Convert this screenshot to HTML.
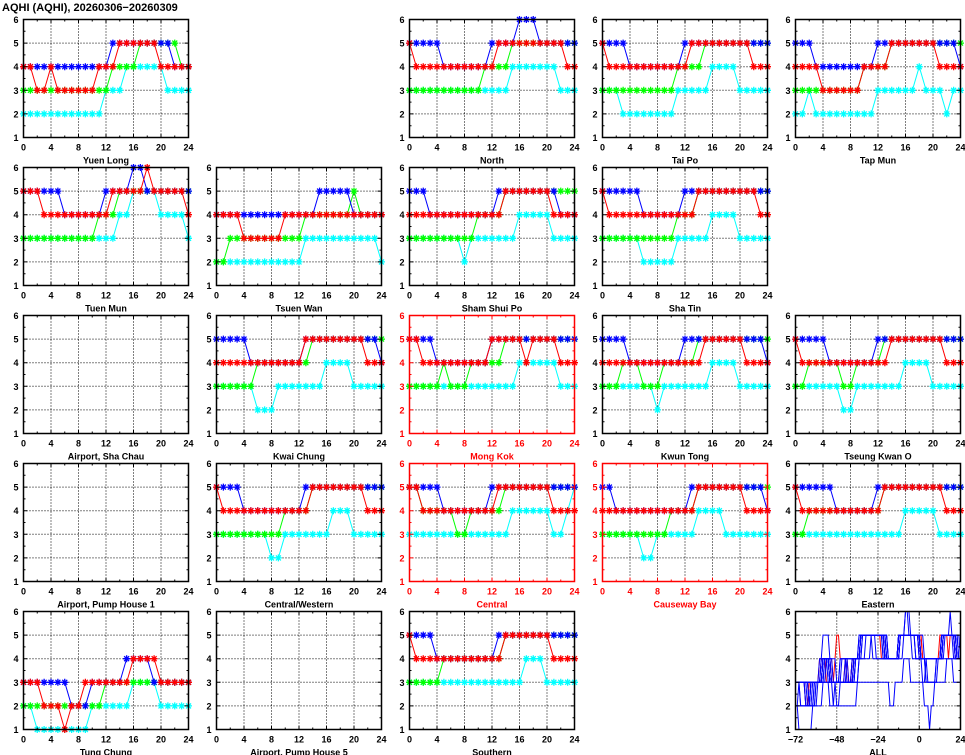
<!DOCTYPE html>
<html><head><meta charset="utf-8"><style>
body{margin:0;background:#fff}
svg{display:block}
text{font-family:"Liberation Sans",Arial,sans-serif;font-weight:bold;font-size:9px}
.s{fill:none;stroke-width:1}
.c{stroke:#0ff;marker-start:url(#mc);marker-mid:url(#mc);marker-end:url(#mc)}
.g{stroke:#0f0;marker-start:url(#mg);marker-mid:url(#mg);marker-end:url(#mg)}
.b{stroke:#00f;marker-start:url(#mb);marker-mid:url(#mb);marker-end:url(#mb)}
.r{stroke:#f00;marker-start:url(#mr);marker-mid:url(#mr);marker-end:url(#mr)}
.a{fill:none;stroke-width:1;vector-effect:non-scaling-stroke}
</style></head><body>
<svg width="965" height="755" viewBox="0 0 965 755" xmlns="http://www.w3.org/2000/svg">
<defs>
<marker id="mc" markerUnits="userSpaceOnUse" markerWidth="8" markerHeight="8" refX="4" refY="4" overflow="visible"><path d="M0.5,4H7.5M4,0.5V7.5M1.5,1.5L6.5,6.5M6.5,1.5L1.5,6.5" stroke="#0ff" stroke-width="1.3" fill="none"/></marker>
<marker id="mg" markerUnits="userSpaceOnUse" markerWidth="8" markerHeight="8" refX="4" refY="4" overflow="visible"><path d="M0.5,4H7.5M4,0.5V7.5M1.5,1.5L6.5,6.5M6.5,1.5L1.5,6.5" stroke="#0f0" stroke-width="1.3" fill="none"/></marker>
<marker id="mb" markerUnits="userSpaceOnUse" markerWidth="8" markerHeight="8" refX="4" refY="4" overflow="visible"><path d="M0.5,4H7.5M4,0.5V7.5M1.5,1.5L6.5,6.5M6.5,1.5L1.5,6.5" stroke="#00f" stroke-width="1.3" fill="none"/></marker>
<marker id="mr" markerUnits="userSpaceOnUse" markerWidth="8" markerHeight="8" refX="4" refY="4" overflow="visible"><path d="M0.5,4H7.5M4,0.5V7.5M1.5,1.5L6.5,6.5M6.5,1.5L1.5,6.5" stroke="#f00" stroke-width="1.3" fill="none"/></marker>
<g id="gr"><path d="M0,23.6H165M0,47.2H165M0,70.8H165M0,94.4H165M27.5,0V118M55,0V118M82.5,0V118M110,0V118M137.5,0V118" stroke="#000" stroke-width="1" stroke-dasharray="1,2" fill="none"/></g>
<g id="gr2"><path d="M0,23.6H165M0,47.2H165M0,70.8H165M0,94.4H165M41.25,0V118M82.5,0V118M123.75,0V118" stroke="#000" stroke-width="1" stroke-dasharray="1,2" fill="none"/></g>
<g id="ty"><path d="M0,0h4M0,11.8h2M0,23.6h4M0,35.4h2M0,47.2h4M0,59h2M0,70.8h4M0,82.6h2M0,94.4h4M0,106.2h2M0,118h4M165,0h-4M165,11.8h-2M165,23.6h-4M165,35.4h-2M165,47.2h-4M165,59h-2M165,70.8h-4M165,82.6h-2M165,94.4h-4M165,106.2h-2M165,118h-4" stroke="currentColor" stroke-width="1" fill="none"/><rect x="0" y="0" width="165" height="118" fill="none" stroke="currentColor" stroke-width="1.5"/></g>
<g id="tk"><use href="#ty"/><path d="M0,118v-4M13.75,118v-2M27.5,118v-4M41.25,118v-2M55,118v-4M68.75,118v-2M82.5,118v-4M96.25,118v-2M110,118v-4M123.75,118v-2M137.5,118v-4M151.25,118v-2M165,118v-4M0,0v4M13.75,0v2M27.5,0v4M41.25,0v2M55,0v4M68.75,0v2M82.5,0v4M96.25,0v2M110,0v4M123.75,0v2M137.5,0v4M151.25,0v2M165,0v4" stroke="currentColor" stroke-width="1" fill="none"/></g>
<g id="tk2"><use href="#ty"/><path d="M0,118v-4M20.625,118v-2M41.25,118v-4M61.875,118v-2M82.5,118v-4M103.125,118v-2M123.75,118v-4M144.375,118v-2M165,118v-4M0,0v4M20.625,0v2M41.25,0v4M61.875,0v2M82.5,0v4M103.125,0v2M123.75,0v4M144.375,0v2M165,0v4" stroke="currentColor" stroke-width="1" fill="none"/></g>
</defs>
<rect width="965" height="755" fill="#fff"/>
<text x="2" y="11" style="font-size:11px">AQHI (AQHI), 20260306−20260309</text>

<!-- Yuen Long -->
<g transform="translate(23.5,19.5)">
<use href="#gr"/>
<path class="s c" d="M0,94.4 h6.875h6.875h6.875h6.875h6.875 h6.875h6.875h6.875h6.875h6.875 h6.875 l6.875-23.6 h6.875h6.875 l6.875-23.6 h6.875h6.875h6.875h6.875h6.875 l6.875 23.6 h6.875h6.875h6.875"/>
<path class="s g" d="M0,70.8 h6.875h6.875h6.875h6.875h6.875 h6.875h6.875h6.875h6.875h6.875 h6.875h6.875 l6.875-23.6 h6.875h6.875h6.875 l6.875-23.6 h6.875h6.875h6.875h6.875h6.875 l6.875 23.6 h6.875"/>
<path class="s b" d="M0,47.2 h6.875h6.875h6.875h6.875h6.875 h6.875h6.875h6.875h6.875h6.875 h6.875h6.875 l6.875-23.6 h6.875h6.875h6.875h6.875h6.875 h6.875h6.875h6.875 l6.875 23.6 h6.875h6.875"/>
<path class="s r" d="M0,47.2 h6.875 l6.875 23.6 h6.875 l6.875-23.6 l6.875 23.6 h6.875h6.875h6.875h6.875h6.875 l6.875-23.6 h6.875h6.875 l6.875-23.6 h6.875h6.875h6.875h6.875h6.875 l6.875 23.6 h6.875h6.875h6.875h6.875"/>
<use href="#tk" color="#000"/>
<g text-anchor="end"><text x="-5" y="3.5">6</text><text x="-5" y="27.1">5</text><text x="-5" y="50.7">4</text><text x="-5" y="74.3">3</text><text x="-5" y="97.9">2</text><text x="-5" y="121.5">1</text></g>
<g text-anchor="middle"><text x="0" y="131">0</text><text x="27.5" y="131">4</text><text x="55" y="131">8</text><text x="82.5" y="131">12</text><text x="110" y="131">16</text><text x="137.5" y="131">20</text><text x="165" y="131">24</text><text x="82.5" y="144">Yuen Long</text></g>
</g>

<!-- North -->
<g transform="translate(409.5,19.5)">
<use href="#gr"/>
<path class="s c" d="M0,70.8 h6.875h6.875h6.875h6.875h6.875 h6.875h6.875h6.875h6.875h6.875 h6.875h6.875h6.875h6.875 l6.875-23.6 h6.875h6.875h6.875h6.875h6.875 h6.875 l6.875 23.6 h6.875h6.875"/>
<path class="s g" d="M0,70.8 h6.875h6.875h6.875h6.875h6.875 h6.875h6.875h6.875h6.875h6.875 l6.875-23.6 h6.875h6.875h6.875 l6.875-23.6 h6.875h6.875h6.875h6.875h6.875 h6.875h6.875h6.875h6.875"/>
<path class="s b" d="M0,23.6 h6.875h6.875h6.875h6.875 l6.875 23.6 h6.875h6.875h6.875h6.875h6.875 h6.875 l6.875-23.6 h6.875h6.875h6.875 l6.875-23.6 h6.875h6.875 l6.875 23.6 h6.875h6.875h6.875h6.875h6.875"/>
<path class="s r" d="M0,23.6 l6.875 23.6 h6.875h6.875h6.875h6.875h6.875 h6.875h6.875h6.875h6.875h6.875 h6.875 l6.875-23.6 h6.875h6.875h6.875h6.875h6.875 h6.875h6.875h6.875h6.875 l6.875 23.6 h6.875"/>
<use href="#tk" color="#000"/>
<g text-anchor="end"><text x="-5" y="3.5">6</text><text x="-5" y="27.1">5</text><text x="-5" y="50.7">4</text><text x="-5" y="74.3">3</text><text x="-5" y="97.9">2</text><text x="-5" y="121.5">1</text></g>
<g text-anchor="middle"><text x="0" y="131">0</text><text x="27.5" y="131">4</text><text x="55" y="131">8</text><text x="82.5" y="131">12</text><text x="110" y="131">16</text><text x="137.5" y="131">20</text><text x="165" y="131">24</text><text x="82.5" y="144">North</text></g>
</g>

<!-- Tai Po -->
<g transform="translate(602.5,19.5)">
<use href="#gr"/>
<path class="s c" d="M0,70.8 h6.875h6.875 l6.875 23.6 h6.875h6.875h6.875h6.875h6.875 h6.875h6.875 l6.875-23.6 h6.875h6.875h6.875h6.875 l6.875-23.6 h6.875h6.875h6.875 l6.875 23.6 h6.875h6.875h6.875h6.875"/>
<path class="s g" d="M0,70.8 h6.875h6.875h6.875h6.875h6.875 h6.875h6.875h6.875h6.875h6.875 l6.875-23.6 h6.875h6.875h6.875 l6.875-23.6 h6.875h6.875h6.875h6.875h6.875 h6.875h6.875h6.875h6.875"/>
<path class="s b" d="M0,23.6 h6.875h6.875h6.875 l6.875 23.6 h6.875h6.875h6.875h6.875h6.875 h6.875h6.875 l6.875-23.6 h6.875h6.875h6.875h6.875h6.875 h6.875h6.875h6.875h6.875h6.875 h6.875h6.875"/>
<path class="s r" d="M0,23.6 l6.875 23.6 h6.875h6.875h6.875h6.875h6.875 h6.875h6.875h6.875h6.875h6.875 h6.875 l6.875-23.6 h6.875h6.875h6.875h6.875h6.875 h6.875h6.875h6.875 l6.875 23.6 h6.875h6.875"/>
<use href="#tk" color="#000"/>
<g text-anchor="end"><text x="-5" y="3.5">6</text><text x="-5" y="27.1">5</text><text x="-5" y="50.7">4</text><text x="-5" y="74.3">3</text><text x="-5" y="97.9">2</text><text x="-5" y="121.5">1</text></g>
<g text-anchor="middle"><text x="0" y="131">0</text><text x="27.5" y="131">4</text><text x="55" y="131">8</text><text x="82.5" y="131">12</text><text x="110" y="131">16</text><text x="137.5" y="131">20</text><text x="165" y="131">24</text><text x="82.5" y="144">Tai Po</text></g>
</g>

<!-- Tap Mun -->
<g transform="translate(795.5,19.5)">
<use href="#gr"/>
<path class="s c" d="M0,94.4 h6.875 l6.875-23.6 l6.875 23.6 h6.875h6.875h6.875h6.875h6.875 h6.875h6.875h6.875 l6.875-23.6 h6.875h6.875h6.875h6.875h6.875 l6.875-23.6 l6.875 23.6 h6.875h6.875 l6.875 23.6 l6.875-23.6 h6.875"/>
<path class="s g" d="M0,70.8 h6.875h6.875h6.875h6.875h6.875 h6.875h6.875h6.875h6.875 l6.875-23.6 h6.875h6.875h6.875 l6.875-23.6 h6.875h6.875h6.875h6.875h6.875 h6.875h6.875h6.875h6.875h6.875"/>
<path class="s b" d="M0,23.6 h6.875h6.875 l6.875 23.6 h6.875h6.875h6.875h6.875h6.875 h6.875h6.875h6.875 l6.875-23.6 h6.875h6.875h6.875h6.875h6.875 h6.875h6.875h6.875h6.875h6.875 h6.875 l6.875 23.6"/>
<path class="s r" d="M0,47.2 h6.875h6.875h6.875 l6.875 23.6 h6.875h6.875h6.875h6.875h6.875 l6.875-23.6 h6.875h6.875h6.875 l6.875-23.6 h6.875h6.875h6.875h6.875h6.875 h6.875 l6.875 23.6 h6.875h6.875h6.875"/>
<use href="#tk" color="#000"/>
<g text-anchor="end"><text x="-5" y="3.5">6</text><text x="-5" y="27.1">5</text><text x="-5" y="50.7">4</text><text x="-5" y="74.3">3</text><text x="-5" y="97.9">2</text><text x="-5" y="121.5">1</text></g>
<g text-anchor="middle"><text x="0" y="131">0</text><text x="27.5" y="131">4</text><text x="55" y="131">8</text><text x="82.5" y="131">12</text><text x="110" y="131">16</text><text x="137.5" y="131">20</text><text x="165" y="131">24</text><text x="82.5" y="144">Tap Mun</text></g>
</g>

<!-- Tuen Mun -->
<g transform="translate(23.5,167.5)">
<use href="#gr"/>
<path class="s c" d="M0,70.8 h6.875h6.875h6.875h6.875h6.875 h6.875h6.875h6.875h6.875h6.875 h6.875h6.875h6.875 l6.875-23.6 h6.875 l6.875-23.6 h6.875h6.875h6.875 l6.875 23.6 h6.875h6.875h6.875 l6.875 23.6"/>
<path class="s g" d="M0,70.8 h6.875h6.875h6.875h6.875h6.875 h6.875h6.875h6.875h6.875h6.875 l6.875-23.6 h6.875h6.875 l6.875-23.6 h6.875h6.875h6.875h6.875h6.875 h6.875h6.875h6.875h6.875h6.875"/>
<path class="s b" d="M0,23.6 h6.875h6.875h6.875h6.875h6.875 l6.875 23.6 h6.875h6.875h6.875h6.875h6.875 l6.875-23.6 h6.875h6.875h6.875 l6.875-23.6 h6.875 l6.875 23.6 h6.875h6.875h6.875h6.875h6.875 h6.875"/>
<path class="s r" d="M0,23.6 h6.875h6.875 l6.875 23.6 h6.875h6.875h6.875h6.875h6.875 h6.875h6.875h6.875h6.875 l6.875-23.6 h6.875h6.875h6.875h6.875 l6.875-23.6 l6.875 23.6 h6.875h6.875h6.875h6.875 l6.875 23.6"/>
<use href="#tk" color="#000"/>
<g text-anchor="end"><text x="-5" y="3.5">6</text><text x="-5" y="27.1">5</text><text x="-5" y="50.7">4</text><text x="-5" y="74.3">3</text><text x="-5" y="97.9">2</text><text x="-5" y="121.5">1</text></g>
<g text-anchor="middle"><text x="0" y="131">0</text><text x="27.5" y="131">4</text><text x="55" y="131">8</text><text x="82.5" y="131">12</text><text x="110" y="131">16</text><text x="137.5" y="131">20</text><text x="165" y="131">24</text><text x="82.5" y="144">Tuen Mun</text></g>
</g>

<!-- Tsuen Wan -->
<g transform="translate(216.5,167.5)">
<use href="#gr"/>
<path class="s c" d="M0,94.4 h6.875h6.875h6.875h6.875h6.875 h6.875h6.875h6.875h6.875h6.875 h6.875h6.875 l6.875-23.6 h6.875h6.875h6.875h6.875h6.875 h6.875h6.875h6.875h6.875h6.875 l6.875 23.6"/>
<path class="s g" d="M0,94.4 h6.875 l6.875-23.6 h6.875h6.875h6.875h6.875h6.875 h6.875h6.875h6.875h6.875h6.875 l6.875-23.6 h6.875h6.875h6.875h6.875h6.875 h6.875 l6.875-23.6 l6.875 23.6 h6.875h6.875h6.875"/>
<path class="s b" d="M0,47.2 h6.875h6.875h6.875h6.875h6.875 h6.875h6.875h6.875h6.875h6.875 h6.875h6.875h6.875h6.875 l6.875-23.6 h6.875h6.875h6.875h6.875 l6.875 23.6 h6.875h6.875h6.875h6.875"/>
<path class="s r" d="M0,47.2 h6.875h6.875h6.875 l6.875 23.6 h6.875h6.875h6.875h6.875h6.875 l6.875-23.6 h6.875h6.875h6.875h6.875h6.875 h6.875h6.875h6.875h6.875h6.875 h6.875h6.875h6.875h6.875"/>
<use href="#tk" color="#000"/>
<g text-anchor="end"><text x="-5" y="3.5">6</text><text x="-5" y="27.1">5</text><text x="-5" y="50.7">4</text><text x="-5" y="74.3">3</text><text x="-5" y="97.9">2</text><text x="-5" y="121.5">1</text></g>
<g text-anchor="middle"><text x="0" y="131">0</text><text x="27.5" y="131">4</text><text x="55" y="131">8</text><text x="82.5" y="131">12</text><text x="110" y="131">16</text><text x="137.5" y="131">20</text><text x="165" y="131">24</text><text x="82.5" y="144">Tsuen Wan</text></g>
</g>

<!-- Sham Shui Po -->
<g transform="translate(409.5,167.5)">
<use href="#gr"/>
<path class="s c" d="M0,70.8 h6.875h6.875h6.875h6.875h6.875 h6.875h6.875 l6.875 23.6 l6.875-23.6 h6.875h6.875h6.875h6.875h6.875 h6.875 l6.875-23.6 h6.875h6.875h6.875h6.875 l6.875 23.6 h6.875h6.875h6.875"/>
<path class="s g" d="M0,70.8 h6.875h6.875h6.875h6.875h6.875 h6.875h6.875h6.875h6.875 l6.875-23.6 h6.875h6.875h6.875 l6.875-23.6 h6.875h6.875h6.875h6.875h6.875 h6.875h6.875h6.875h6.875h6.875"/>
<path class="s b" d="M0,23.6 h6.875h6.875 l6.875 23.6 h6.875h6.875h6.875h6.875h6.875 h6.875h6.875h6.875h6.875 l6.875-23.6 h6.875h6.875h6.875h6.875h6.875 h6.875h6.875h6.875 l6.875 23.6 h6.875h6.875"/>
<path class="s r" d="M0,47.2 h6.875h6.875h6.875h6.875h6.875 h6.875h6.875h6.875h6.875h6.875 h6.875h6.875h6.875 l6.875-23.6 h6.875h6.875h6.875h6.875h6.875 h6.875 l6.875 23.6 h6.875h6.875h6.875"/>
<use href="#tk" color="#000"/>
<g text-anchor="end"><text x="-5" y="3.5">6</text><text x="-5" y="27.1">5</text><text x="-5" y="50.7">4</text><text x="-5" y="74.3">3</text><text x="-5" y="97.9">2</text><text x="-5" y="121.5">1</text></g>
<g text-anchor="middle"><text x="0" y="131">0</text><text x="27.5" y="131">4</text><text x="55" y="131">8</text><text x="82.5" y="131">12</text><text x="110" y="131">16</text><text x="137.5" y="131">20</text><text x="165" y="131">24</text><text x="82.5" y="144">Sham Shui Po</text></g>
</g>

<!-- Sha Tin -->
<g transform="translate(602.5,167.5)">
<use href="#gr"/>
<path class="s c" d="M0,70.8 h6.875h6.875h6.875h6.875h6.875 l6.875 23.6 h6.875h6.875h6.875h6.875 l6.875-23.6 h6.875h6.875h6.875h6.875 l6.875-23.6 h6.875h6.875h6.875 l6.875 23.6 h6.875h6.875h6.875h6.875"/>
<path class="s g" d="M0,70.8 h6.875h6.875h6.875h6.875h6.875 h6.875h6.875h6.875h6.875h6.875 l6.875-23.6 h6.875h6.875 l6.875-23.6 h6.875h6.875h6.875h6.875h6.875 h6.875h6.875h6.875h6.875h6.875"/>
<path class="s b" d="M0,23.6 h6.875h6.875h6.875h6.875h6.875 l6.875 23.6 h6.875h6.875h6.875h6.875h6.875 l6.875-23.6 h6.875h6.875h6.875h6.875h6.875 h6.875h6.875h6.875h6.875h6.875 h6.875h6.875"/>
<path class="s r" d="M0,23.6 l6.875 23.6 h6.875h6.875h6.875h6.875h6.875 h6.875h6.875h6.875h6.875h6.875 h6.875h6.875 l6.875-23.6 h6.875h6.875h6.875h6.875h6.875 h6.875h6.875h6.875 l6.875 23.6 h6.875"/>
<use href="#tk" color="#000"/>
<g text-anchor="end"><text x="-5" y="3.5">6</text><text x="-5" y="27.1">5</text><text x="-5" y="50.7">4</text><text x="-5" y="74.3">3</text><text x="-5" y="97.9">2</text><text x="-5" y="121.5">1</text></g>
<g text-anchor="middle"><text x="0" y="131">0</text><text x="27.5" y="131">4</text><text x="55" y="131">8</text><text x="82.5" y="131">12</text><text x="110" y="131">16</text><text x="137.5" y="131">20</text><text x="165" y="131">24</text><text x="82.5" y="144">Sha Tin</text></g>
</g>

<!-- Airport, Sha Chau -->
<g transform="translate(23.5,315.5)">
<use href="#gr"/>
<use href="#tk" color="#000"/>
<g text-anchor="end"><text x="-5" y="3.5">6</text><text x="-5" y="27.1">5</text><text x="-5" y="50.7">4</text><text x="-5" y="74.3">3</text><text x="-5" y="97.9">2</text><text x="-5" y="121.5">1</text></g>
<g text-anchor="middle"><text x="0" y="131">0</text><text x="27.5" y="131">4</text><text x="55" y="131">8</text><text x="82.5" y="131">12</text><text x="110" y="131">16</text><text x="137.5" y="131">20</text><text x="165" y="131">24</text><text x="82.5" y="144">Airport, Sha Chau</text></g>
</g>

<!-- Kwai Chung -->
<g transform="translate(216.5,315.5)">
<use href="#gr"/>
<path class="s c" d="M0,70.8 h6.875h6.875h6.875h6.875h6.875 l6.875 23.6 h6.875h6.875 l6.875-23.6 h6.875h6.875h6.875h6.875h6.875 h6.875 l6.875-23.6 h6.875h6.875h6.875 l6.875 23.6 h6.875h6.875h6.875h6.875"/>
<path class="s g" d="M0,70.8 h6.875h6.875h6.875h6.875h6.875 l6.875-23.6 h6.875h6.875h6.875h6.875h6.875 h6.875h6.875 l6.875-23.6 h6.875h6.875h6.875h6.875h6.875 h6.875h6.875h6.875h6.875h6.875"/>
<path class="s b" d="M0,23.6 h6.875h6.875h6.875h6.875 l6.875 23.6 h6.875h6.875h6.875h6.875h6.875 h6.875h6.875 l6.875-23.6 h6.875h6.875h6.875h6.875h6.875 h6.875h6.875h6.875h6.875h6.875 l6.875 23.6"/>
<path class="s r" d="M0,47.2 h6.875h6.875h6.875h6.875h6.875 h6.875h6.875h6.875h6.875h6.875 h6.875h6.875 l6.875-23.6 h6.875h6.875h6.875h6.875h6.875 h6.875h6.875h6.875 l6.875 23.6 h6.875h6.875"/>
<use href="#tk" color="#000"/>
<g text-anchor="end"><text x="-5" y="3.5">6</text><text x="-5" y="27.1">5</text><text x="-5" y="50.7">4</text><text x="-5" y="74.3">3</text><text x="-5" y="97.9">2</text><text x="-5" y="121.5">1</text></g>
<g text-anchor="middle"><text x="0" y="131">0</text><text x="27.5" y="131">4</text><text x="55" y="131">8</text><text x="82.5" y="131">12</text><text x="110" y="131">16</text><text x="137.5" y="131">20</text><text x="165" y="131">24</text><text x="82.5" y="144">Kwai Chung</text></g>
</g>

<!-- Mong Kok (red) -->
<g transform="translate(409.5,315.5)">
<use href="#gr"/>
<path class="s c" d="M0,70.8 h6.875h6.875h6.875h6.875h6.875 h6.875h6.875h6.875h6.875h6.875 h6.875h6.875h6.875h6.875h6.875 l6.875-23.6 h6.875h6.875h6.875h6.875h6.875 l6.875 23.6 h6.875h6.875"/>
<path class="s g" d="M0,70.8 h6.875h6.875h6.875h6.875 l6.875-23.6 l6.875 23.6 h6.875h6.875 l6.875-23.6 h6.875h6.875h6.875h6.875 l6.875-23.6 h6.875h6.875h6.875h6.875h6.875 h6.875h6.875h6.875h6.875h6.875"/>
<path class="s b" d="M0,23.6 h6.875h6.875h6.875 l6.875 23.6 h6.875h6.875h6.875h6.875h6.875 h6.875h6.875 l6.875-23.6 h6.875h6.875h6.875h6.875h6.875 h6.875h6.875h6.875h6.875h6.875 h6.875h6.875"/>
<path class="s r" d="M0,23.6 h6.875 l6.875 23.6 h6.875h6.875h6.875h6.875h6.875 h6.875h6.875h6.875h6.875 l6.875-23.6 h6.875h6.875h6.875h6.875 l6.875 23.6 l6.875-23.6 h6.875h6.875h6.875 l6.875 23.6 h6.875h6.875"/>
<use href="#tk" color="#f00"/>
<g fill="#f00">
<g text-anchor="end"><text x="-5" y="3.5">6</text><text x="-5" y="27.1">5</text><text x="-5" y="50.7">4</text><text x="-5" y="74.3">3</text><text x="-5" y="97.9">2</text><text x="-5" y="121.5">1</text></g>
<g text-anchor="middle"><text x="0" y="131">0</text><text x="27.5" y="131">4</text><text x="55" y="131">8</text><text x="82.5" y="131">12</text><text x="110" y="131">16</text><text x="137.5" y="131">20</text><text x="165" y="131">24</text><text x="82.5" y="144">Mong Kok</text></g>
</g>
</g>

<!-- Kwun Tong -->
<g transform="translate(602.5,315.5)">
<use href="#gr"/>
<path class="s c" d="M0,70.8 h6.875h6.875h6.875h6.875h6.875 h6.875h6.875 l6.875 23.6 l6.875-23.6 h6.875h6.875h6.875h6.875h6.875 h6.875 l6.875-23.6 h6.875h6.875h6.875 l6.875 23.6 h6.875h6.875h6.875h6.875"/>
<path class="s g" d="M0,70.8 h6.875h6.875 l6.875-23.6 h6.875h6.875 l6.875 23.6 h6.875h6.875 l6.875-23.6 h6.875h6.875h6.875h6.875 l6.875-23.6 h6.875h6.875h6.875h6.875h6.875 h6.875h6.875h6.875h6.875h6.875"/>
<path class="s b" d="M0,23.6 h6.875h6.875h6.875 l6.875 23.6 h6.875h6.875h6.875h6.875h6.875 h6.875h6.875 l6.875-23.6 h6.875h6.875h6.875h6.875h6.875 h6.875h6.875h6.875h6.875h6.875 h6.875 l6.875 23.6"/>
<path class="s r" d="M0,47.2 h6.875h6.875h6.875h6.875h6.875 h6.875h6.875h6.875h6.875h6.875 h6.875h6.875h6.875h6.875 l6.875-23.6 h6.875h6.875h6.875h6.875h6.875 l6.875 23.6 h6.875h6.875h6.875"/>
<use href="#tk" color="#000"/>
<g text-anchor="end"><text x="-5" y="3.5">6</text><text x="-5" y="27.1">5</text><text x="-5" y="50.7">4</text><text x="-5" y="74.3">3</text><text x="-5" y="97.9">2</text><text x="-5" y="121.5">1</text></g>
<g text-anchor="middle"><text x="0" y="131">0</text><text x="27.5" y="131">4</text><text x="55" y="131">8</text><text x="82.5" y="131">12</text><text x="110" y="131">16</text><text x="137.5" y="131">20</text><text x="165" y="131">24</text><text x="82.5" y="144">Kwun Tong</text></g>
</g>

<!-- Tseung Kwan O -->
<g transform="translate(795.5,315.5)">
<use href="#gr"/>
<path class="s c" d="M0,70.8 h6.875h6.875h6.875h6.875h6.875 h6.875 l6.875 23.6 h6.875 l6.875-23.6 h6.875h6.875h6.875h6.875h6.875 h6.875 l6.875-23.6 h6.875h6.875h6.875 l6.875 23.6 h6.875h6.875h6.875h6.875"/>
<path class="s g" d="M0,70.8 h6.875 l6.875-23.6 h6.875h6.875h6.875h6.875 l6.875 23.6 h6.875 l6.875-23.6 h6.875h6.875h6.875 l6.875-23.6 h6.875h6.875h6.875h6.875h6.875 h6.875h6.875h6.875h6.875h6.875 h6.875"/>
<path class="s b" d="M0,23.6 h6.875h6.875h6.875h6.875 l6.875 23.6 h6.875h6.875h6.875h6.875h6.875 h6.875 l6.875-23.6 h6.875h6.875h6.875h6.875h6.875 h6.875h6.875h6.875h6.875h6.875 h6.875h6.875"/>
<path class="s r" d="M0,23.6 l6.875 23.6 h6.875h6.875h6.875h6.875h6.875 h6.875h6.875h6.875h6.875h6.875 h6.875h6.875 l6.875-23.6 h6.875h6.875h6.875h6.875h6.875 h6.875h6.875 l6.875 23.6 h6.875h6.875"/>
<use href="#tk" color="#000"/>
<g text-anchor="end"><text x="-5" y="3.5">6</text><text x="-5" y="27.1">5</text><text x="-5" y="50.7">4</text><text x="-5" y="74.3">3</text><text x="-5" y="97.9">2</text><text x="-5" y="121.5">1</text></g>
<g text-anchor="middle"><text x="0" y="131">0</text><text x="27.5" y="131">4</text><text x="55" y="131">8</text><text x="82.5" y="131">12</text><text x="110" y="131">16</text><text x="137.5" y="131">20</text><text x="165" y="131">24</text><text x="82.5" y="144">Tseung Kwan O</text></g>
</g>

<!-- Airport, Pump House 1 -->
<g transform="translate(23.5,463.5)">
<use href="#gr"/>
<use href="#tk" color="#000"/>
<g text-anchor="end"><text x="-5" y="3.5">6</text><text x="-5" y="27.1">5</text><text x="-5" y="50.7">4</text><text x="-5" y="74.3">3</text><text x="-5" y="97.9">2</text><text x="-5" y="121.5">1</text></g>
<g text-anchor="middle"><text x="0" y="131">0</text><text x="27.5" y="131">4</text><text x="55" y="131">8</text><text x="82.5" y="131">12</text><text x="110" y="131">16</text><text x="137.5" y="131">20</text><text x="165" y="131">24</text><text x="82.5" y="144">Airport, Pump House 1</text></g>
</g>

<!-- Central/Western -->
<g transform="translate(216.5,463.5)">
<use href="#gr"/>
<path class="s c" d="M0,70.8 h6.875h6.875h6.875h6.875h6.875 h6.875h6.875 l6.875 23.6 h6.875 l6.875-23.6 h6.875h6.875h6.875h6.875h6.875 h6.875 l6.875-23.6 h6.875h6.875 l6.875 23.6 h6.875h6.875h6.875h6.875"/>
<path class="s g" d="M0,70.8 h6.875h6.875h6.875h6.875h6.875 h6.875h6.875h6.875h6.875 l6.875-23.6 h6.875h6.875h6.875 l6.875-23.6 h6.875h6.875h6.875h6.875h6.875 h6.875h6.875h6.875h6.875h6.875"/>
<path class="s b" d="M0,23.6 h6.875h6.875h6.875 l6.875 23.6 h6.875h6.875h6.875h6.875h6.875 h6.875h6.875h6.875 l6.875-23.6 h6.875h6.875h6.875h6.875h6.875 h6.875h6.875h6.875h6.875h6.875 h6.875"/>
<path class="s r" d="M0,23.6 l6.875 23.6 h6.875h6.875h6.875h6.875h6.875 h6.875h6.875h6.875h6.875h6.875 h6.875h6.875 l6.875-23.6 h6.875h6.875h6.875h6.875h6.875 h6.875h6.875 l6.875 23.6 h6.875h6.875"/>
<use href="#tk" color="#000"/>
<g text-anchor="end"><text x="-5" y="3.5">6</text><text x="-5" y="27.1">5</text><text x="-5" y="50.7">4</text><text x="-5" y="74.3">3</text><text x="-5" y="97.9">2</text><text x="-5" y="121.5">1</text></g>
<g text-anchor="middle"><text x="0" y="131">0</text><text x="27.5" y="131">4</text><text x="55" y="131">8</text><text x="82.5" y="131">12</text><text x="110" y="131">16</text><text x="137.5" y="131">20</text><text x="165" y="131">24</text><text x="82.5" y="144">Central/Western</text></g>
</g>

<!-- Central (red) -->
<g transform="translate(409.5,463.5)">
<use href="#gr"/>
<path class="s c" d="M0,70.8 h6.875h6.875h6.875h6.875h6.875 h6.875h6.875h6.875h6.875h6.875 h6.875h6.875h6.875h6.875 l6.875-23.6 h6.875h6.875h6.875h6.875h6.875 l6.875 23.6 h6.875 l6.875-23.6 l6.875-23.6"/>
<path class="s g" d="M0,23.6 h6.875 l6.875 23.6 h6.875h6.875h6.875h6.875 l6.875 23.6 h6.875 l6.875-23.6 h6.875h6.875h6.875h6.875 l6.875-23.6 h6.875h6.875h6.875h6.875h6.875 h6.875h6.875h6.875h6.875h6.875"/>
<path class="s b" d="M0,23.6 h6.875h6.875h6.875h6.875 l6.875 23.6 h6.875h6.875h6.875h6.875h6.875 h6.875 l6.875-23.6 h6.875h6.875h6.875h6.875h6.875 h6.875h6.875h6.875h6.875h6.875 h6.875h6.875"/>
<path class="s r" d="M0,23.6 h6.875 l6.875 23.6 h6.875h6.875h6.875h6.875h6.875 h6.875h6.875h6.875h6.875h6.875 l6.875-23.6 h6.875h6.875h6.875h6.875h6.875 h6.875h6.875 l6.875 23.6 h6.875h6.875h6.875"/>
<use href="#tk" color="#f00"/>
<g fill="#f00">
<g text-anchor="end"><text x="-5" y="3.5">6</text><text x="-5" y="27.1">5</text><text x="-5" y="50.7">4</text><text x="-5" y="74.3">3</text><text x="-5" y="97.9">2</text><text x="-5" y="121.5">1</text></g>
<g text-anchor="middle"><text x="0" y="131">0</text><text x="27.5" y="131">4</text><text x="55" y="131">8</text><text x="82.5" y="131">12</text><text x="110" y="131">16</text><text x="137.5" y="131">20</text><text x="165" y="131">24</text><text x="82.5" y="144">Central</text></g>
</g>
</g>

<!-- Causeway Bay (red) -->
<g transform="translate(602.5,463.5)">
<use href="#gr"/>
<path class="s c" d="M0,70.8 h6.875h6.875h6.875h6.875h6.875 l6.875 23.6 h6.875 l6.875-23.6 h6.875h6.875h6.875h6.875h6.875 l6.875-23.6 h6.875h6.875h6.875 l6.875 23.6 h6.875h6.875h6.875h6.875h6.875 h6.875"/>
<path class="s g" d="M0,70.8 h6.875h6.875h6.875h6.875h6.875 h6.875h6.875h6.875h6.875 l6.875-23.6 h6.875h6.875h6.875 l6.875-23.6 h6.875h6.875h6.875h6.875h6.875 h6.875h6.875h6.875h6.875h6.875"/>
<path class="s b" d="M0,23.6 h6.875 l6.875 23.6 h6.875h6.875h6.875h6.875h6.875 h6.875h6.875h6.875h6.875h6.875 l6.875-23.6 h6.875h6.875h6.875h6.875h6.875 h6.875h6.875h6.875h6.875h6.875 l6.875 23.6"/>
<path class="s r" d="M0,47.2 h6.875h6.875h6.875h6.875h6.875 h6.875h6.875h6.875h6.875h6.875 h6.875h6.875h6.875 l6.875-23.6 h6.875h6.875h6.875h6.875h6.875 h6.875 l6.875 23.6 h6.875h6.875h6.875"/>
<use href="#tk" color="#f00"/>
<g fill="#f00">
<g text-anchor="end"><text x="-5" y="3.5">6</text><text x="-5" y="27.1">5</text><text x="-5" y="50.7">4</text><text x="-5" y="74.3">3</text><text x="-5" y="97.9">2</text><text x="-5" y="121.5">1</text></g>
<g text-anchor="middle"><text x="0" y="131">0</text><text x="27.5" y="131">4</text><text x="55" y="131">8</text><text x="82.5" y="131">12</text><text x="110" y="131">16</text><text x="137.5" y="131">20</text><text x="165" y="131">24</text><text x="82.5" y="144">Causeway Bay</text></g>
</g>
</g>

<!-- Eastern -->
<g transform="translate(795.5,463.5)">
<use href="#gr"/>
<path class="s c" d="M0,70.8 h6.875h6.875h6.875h6.875h6.875 h6.875h6.875h6.875h6.875h6.875 h6.875h6.875h6.875h6.875h6.875 l6.875-23.6 h6.875h6.875h6.875h6.875 l6.875 23.6 h6.875h6.875h6.875"/>
<path class="s g" d="M0,70.8 h6.875 l6.875-23.6 h6.875h6.875h6.875h6.875h6.875 h6.875h6.875h6.875h6.875h6.875 l6.875-23.6 h6.875h6.875h6.875h6.875h6.875 h6.875h6.875h6.875h6.875h6.875 h6.875"/>
<path class="s b" d="M0,23.6 h6.875h6.875h6.875h6.875h6.875 l6.875 23.6 h6.875h6.875h6.875h6.875h6.875 l6.875-23.6 h6.875h6.875h6.875h6.875h6.875 h6.875h6.875h6.875h6.875h6.875 h6.875h6.875"/>
<path class="s r" d="M0,23.6 l6.875 23.6 h6.875h6.875h6.875h6.875h6.875 h6.875h6.875h6.875h6.875h6.875 h6.875 l6.875-23.6 h6.875h6.875h6.875h6.875h6.875 h6.875h6.875h6.875 l6.875 23.6 h6.875h6.875"/>
<use href="#tk" color="#000"/>
<g text-anchor="end"><text x="-5" y="3.5">6</text><text x="-5" y="27.1">5</text><text x="-5" y="50.7">4</text><text x="-5" y="74.3">3</text><text x="-5" y="97.9">2</text><text x="-5" y="121.5">1</text></g>
<g text-anchor="middle"><text x="0" y="131">0</text><text x="27.5" y="131">4</text><text x="55" y="131">8</text><text x="82.5" y="131">12</text><text x="110" y="131">16</text><text x="137.5" y="131">20</text><text x="165" y="131">24</text><text x="82.5" y="144">Eastern</text></g>
</g>

<!-- Tung Chung -->
<g transform="translate(23.5,611.5)">
<use href="#gr"/>
<path class="s c" d="M0,94.4 h6.875 l6.875 23.6 h6.875h6.875h6.875h6.875h6.875 h6.875h6.875 l6.875-23.6 h6.875h6.875h6.875h6.875h6.875 l6.875-23.6 h6.875h6.875h6.875 l6.875 23.6 h6.875h6.875h6.875h6.875"/>
<path class="s g" d="M0,94.4 h6.875h6.875h6.875h6.875h6.875 h6.875h6.875h6.875h6.875h6.875 h6.875 l6.875-23.6 h6.875h6.875h6.875h6.875h6.875 h6.875h6.875h6.875h6.875h6.875 h6.875h6.875"/>
<path class="s b" d="M0,70.8 h6.875h6.875h6.875h6.875h6.875 h6.875 l6.875 23.6 h6.875h6.875 l6.875-23.6 h6.875h6.875h6.875h6.875 l6.875-23.6 h6.875h6.875h6.875 l6.875 23.6 h6.875h6.875h6.875h6.875h6.875"/>
<path class="s r" d="M0,70.8 h6.875h6.875 l6.875 23.6 h6.875h6.875 l6.875 23.6 l6.875-23.6 h6.875 l6.875-23.6 h6.875h6.875h6.875h6.875h6.875 h6.875 l6.875-23.6 h6.875h6.875h6.875 l6.875 23.6 h6.875h6.875h6.875h6.875"/>
<use href="#tk" color="#000"/>
<g text-anchor="end"><text x="-5" y="3.5">6</text><text x="-5" y="27.1">5</text><text x="-5" y="50.7">4</text><text x="-5" y="74.3">3</text><text x="-5" y="97.9">2</text><text x="-5" y="121.5">1</text></g>
<g text-anchor="middle"><text x="0" y="131">0</text><text x="27.5" y="131">4</text><text x="55" y="131">8</text><text x="82.5" y="131">12</text><text x="110" y="131">16</text><text x="137.5" y="131">20</text><text x="165" y="131">24</text><text x="82.5" y="144">Tung Chung</text></g>
</g>

<!-- Airport, Pump House 5 -->
<g transform="translate(216.5,611.5)">
<use href="#gr"/>
<use href="#tk" color="#000"/>
<g text-anchor="end"><text x="-5" y="3.5">6</text><text x="-5" y="27.1">5</text><text x="-5" y="50.7">4</text><text x="-5" y="74.3">3</text><text x="-5" y="97.9">2</text><text x="-5" y="121.5">1</text></g>
<g text-anchor="middle"><text x="0" y="131">0</text><text x="27.5" y="131">4</text><text x="55" y="131">8</text><text x="82.5" y="131">12</text><text x="110" y="131">16</text><text x="137.5" y="131">20</text><text x="165" y="131">24</text><text x="82.5" y="144">Airport, Pump House 5</text></g>
</g>

<!-- Southern -->
<g transform="translate(409.5,611.5)">
<use href="#gr"/>
<path class="s c" d="M0,70.8 h6.875h6.875h6.875h6.875h6.875 h6.875h6.875h6.875h6.875h6.875 h6.875h6.875h6.875h6.875h6.875 h6.875 l6.875-23.6 h6.875h6.875 l6.875 23.6 h6.875h6.875h6.875h6.875"/>
<path class="s g" d="M0,70.8 h6.875h6.875h6.875h6.875 l6.875-23.6 h6.875h6.875h6.875h6.875h6.875 h6.875h6.875h6.875 l6.875-23.6 h6.875h6.875h6.875h6.875h6.875 h6.875h6.875h6.875h6.875h6.875"/>
<path class="s b" d="M0,23.6 h6.875h6.875h6.875 l6.875 23.6 h6.875h6.875h6.875h6.875h6.875 h6.875h6.875h6.875 l6.875-23.6 h6.875h6.875h6.875h6.875h6.875 h6.875h6.875h6.875h6.875h6.875 h6.875"/>
<path class="s r" d="M0,23.6 l6.875 23.6 h6.875h6.875h6.875h6.875h6.875 h6.875h6.875h6.875h6.875h6.875 h6.875h6.875 l6.875-23.6 h6.875h6.875h6.875h6.875h6.875 h6.875 l6.875 23.6 h6.875h6.875h6.875"/>
<use href="#tk" color="#000"/>
<g text-anchor="end"><text x="-5" y="3.5">6</text><text x="-5" y="27.1">5</text><text x="-5" y="50.7">4</text><text x="-5" y="74.3">3</text><text x="-5" y="97.9">2</text><text x="-5" y="121.5">1</text></g>
<g text-anchor="middle"><text x="0" y="131">0</text><text x="27.5" y="131">4</text><text x="55" y="131">8</text><text x="82.5" y="131">12</text><text x="110" y="131">16</text><text x="137.5" y="131">20</text><text x="165" y="131">24</text><text x="82.5" y="144">Southern</text></g>
</g>

<!-- ALL -->
<g transform="translate(795.5,611.5)">
<use href="#gr2"/>
<g transform="scale(1.71875,1)">
<g stroke="#f00">
<path class="a" d="M0,70.8H15L16,47.2H21L22,70.8H28L29,47.2L30,70.8H32L33,47.2H37L38,23.6H51L52,47.2H59L60,23.6H73L74,47.2H83L84,23.6H88L89,47.2L90,23.6H93L94,47.2H96"/>
<path class="a" d="M0,70.8H14L15,47.2H20L21,70.8H22L23,47.2L24,23.6H25L26,47.2H30L31,70.8H32L33,47.2H37L38,23.6H52L53,47.2H59L60,23.6H73L74,47.2H84L85,23.6H92L93,47.2H96"/>
<path class="a" d="M0,70.8H5L6,94.4H7L8,70.8H13L14,47.2H17L18,70.8H33L34,47.2H37L38,23.6H49L50,47.2H60L61,23.6H71L72,47.2H85L86,23.6H92L93,47.2H96"/>
</g>
<g stroke="#00f">
<path class="a" d="M0,94.4H11L12,70.8H14L15,47.2H20L21,70.8H36L37,47.2H40L41,23.6H46L47,47.2H60L61,23.6H69L70,47.2H73L74,70.8H75L76,47.2L77,70.8H82L83,47.2H85L86,23.6H91L92,47.2H96"/>
<path class="a" d="M0,70.8H14L15,47.2H21L22,70.8H34L35,47.2H38L39,23.6H52L53,47.2H59L60,23.6H63L64,0H66L67,23.6H72L73,47.2H84L85,23.6H94L95,47.2H96"/>
<path class="a" d="M0,70.8H2L3,94.4H10L11,70.8H15L16,47.2H19L20,70.8H34L35,47.2H38L39,23.6H51L52,47.2H59L60,23.6H72L73,47.2H84L85,23.6H93L94,47.2H96"/>
<path class="a" d="M0,94.4H1L2,70.8L3,94.4H11L12,70.8H17L18,47.2L19,70.8H21L22,94.4L23,70.8H33L34,47.2H37L38,23.6H50L51,47.2H59L60,23.6H71L72,47.2H75L76,70.8H81L82,47.2H85L86,23.6H92L93,47.2H96"/>
<path class="a" d="M0,70.8H13L14,47.2H15L16,23.6H19L20,47.2H23L24,70.8H34L35,47.2H37L38,23.6H53L54,47.2H59L60,23.6H63L64,0H65L66,23.6H74L75,47.2H84L85,23.6H89L90,0L91,23.6H95L96,47.2"/>
<path class="a" d="M0,94.4H12L13,70.8H23L24,94.4H25L26,70.8H36L37,47.2H43L44,23.6L45,47.2H62L63,23.6H67L68,47.2H75L76,70.8H81L82,47.2H96"/>
<path class="a" d="M0,70.8H7L8,94.4L9,70.8H15L16,47.2H20L21,70.8H33L34,47.2H37L38,23.6H50L51,47.2H60L61,23.6H69L70,47.2H85L86,23.6H92L93,47.2H96"/>
<path class="a" d="M0,70.8H5L6,94.4H10L11,70.8H15L16,47.2H19L20,70.8H34L35,47.2H37L38,23.6H53L54,47.2H59L60,23.6H72L73,47.2H85L86,23.6H94L95,47.2H96"/>
<path class="a" d="M0,70.8H5L6,94.4H8L9,70.8H15L16,47.2H19L20,70.8H29L30,47.2H37L38,23.6H52L53,47.2H60L61,23.6H71L72,47.2H84L85,23.6H93L94,47.2H96"/>
<path class="a" d="M0,70.8H7L8,94.4L9,70.8H15L16,47.2H19L20,70.8H26L27,47.2H29L30,70.8H32L33,47.2H37L38,23.6H51L52,47.2H59L60,23.6H71L72,47.2H86L87,23.6H92L93,47.2H96"/>
<path class="a" d="M0,70.8H6L7,94.4H8L9,70.8H15L16,47.2H19L20,70.8H25L26,47.2H30L31,70.8H32L33,47.2H36L37,23.6H52L53,47.2H59L60,23.6H72L73,47.2H85L86,23.6H93L94,47.2H96"/>
<path class="a" d="M0,70.8H7L8,94.4H9L10,70.8H16L17,47.2H19L20,70.8H33L34,47.2H37L38,23.6H51L52,47.2H60L61,23.6H72L73,47.2H85L86,23.6H93L94,47.2H96"/>
<path class="a" d="M0,70.8H15L16,47.2H20L21,70.8H25L26,47.2H36L37,23.6H53L54,47.2H59L60,23.6H72L73,47.2H84L85,23.6H93L94,47.2H96"/>
<path class="a" d="M0,94.4H1L2,118H9L10,94.4H15L16,70.8H19L20,94.4H35L36,70.8H54L55,94.4H57L58,70.8H62L63,47.2H66L67,70.8H74L75,94.4H77L78,118L79,94.4H80L81,70.8H87L88,47.2H91L92,70.8H96"/>
<path class="a" d="M0,70.8H16L17,47.2H19L20,70.8H28L29,47.2H37L38,23.6H51L52,47.2H60L61,23.6H72L73,47.2H85L86,23.6H92L93,47.2H96"/>
</g>
</g>
<use href="#tk2" color="#000"/>
<g text-anchor="end"><text x="-5" y="3.5">6</text><text x="-5" y="27.1">5</text><text x="-5" y="50.7">4</text><text x="-5" y="74.3">3</text><text x="-5" y="97.9">2</text><text x="-5" y="121.5">1</text></g>
<g text-anchor="middle"><text x="0" y="131">−72</text><text x="41.25" y="131">−48</text><text x="82.5" y="131">−24</text><text x="123.75" y="131">0</text><text x="165" y="131">24</text><text x="82.5" y="144">ALL</text></g>
</g>
</svg>
</body></html>
